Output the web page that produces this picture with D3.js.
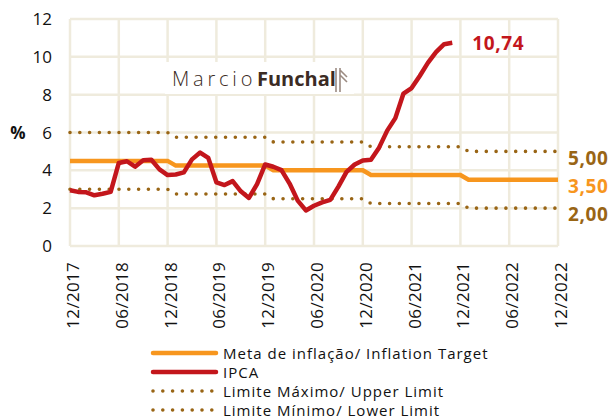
<!DOCTYPE html>
<meta charset="utf-8">
<head>
  <title>IPCA x Meta de inflação</title>
</head>
<style>
body { margin:0; background:#fff; }
text { font-family: "Open Sans", sans-serif; }
</style>
<body>
<div id="content"></div>
<script src="https://cdnjs.cloudflare.com/ajax/libs/d3/7.8.5/d3.min.js"></script>
<script>

const width = 616
const height = 418

// months from 12/2017 (index 0) to 12/2022 (index 60)
var tickLabels = ["12/2017","06/2018","12/2018","06/2019","12/2019","06/2020","12/2020","06/2021","12/2021","06/2022","12/2022"];
var yTicks = [0, 2, 4, 6, 8, 10, 12];

// IPCA 12 months, 12/2017 .. 11/2021
var ipca = [2.95,
  2.86, 2.84, 2.68, 2.76, 2.86, 4.39, 4.48, 4.19, 4.53, 4.56, 4.05, 3.75,
  3.78, 3.89, 4.58, 4.94, 4.66, 3.37, 3.22, 3.43, 2.89, 2.54, 3.27, 4.31,
  4.19, 4.01, 3.30, 2.40, 1.88, 2.13, 2.31, 2.44, 3.14, 3.92, 4.31, 4.52,
  4.56, 5.20, 6.10, 6.76, 8.06, 8.35, 8.99, 9.68, 10.25, 10.67, 10.74];

// yearly target and limits, 2017 .. 2022
var years = [2017, 2018, 2019, 2020, 2021, 2022];
var meta = [4.5, 4.5, 4.25, 4.0, 3.75, 3.5];
var limSup = [6.0, 6.0, 5.75, 5.5, 5.25, 5.0];
var limInf = [3.0, 3.0, 2.75, 2.5, 2.25, 2.0];

var red = "#c3161c", orange = "#f7961e", gold = "#996515", grid = "#efebdd";

// month index -> value of that month's year
function monthly(arr) {
  return d3.range(61).map(function(i) {
    var yr = 2017 + Math.floor((i + 11) / 12);
    return [i, arr[years.indexOf(yr)]];
  });
}

var x = d3.scaleLinear().domain([0, 60]).range([70, 558]);
var y = d3.scaleLinear().domain([0, 12]).range([246, 19]);

const svg = d3.select('#content')
  .append('svg')
    .attr('width', width)
    .attr('height', height);

// grid
var g = svg.append('g');
g.selectAll('line.h').data(yTicks).enter().append('line')
  .attr('x1', x(0)).attr('x2', x(60))
  .attr('y1', d => y(d)).attr('y2', d => y(d))
  .attr('stroke', grid).attr('stroke-width', 2.5);
g.selectAll('line.v').data(tickLabels).enter().append('line')
  .attr('x1', (d, i) => x(i * 6)).attr('x2', (d, i) => x(i * 6))
  .attr('y1', y(0)).attr('y2', y(12))
  .attr('stroke', grid).attr('stroke-width', 2.5);

// logo box
var logo = svg.append('g');
logo.append('rect').attr('x', 165).attr('y', 62).attr('width', 189).attr('height', 32).attr('fill', '#fff');
logo.append('text').attr('x', 172).attr('y', 86)
  .style('font-size', '20px').style('letter-spacing', '3.8px').style('font-weight', 300)
  .attr('fill', '#3b2b24').text('Marcio');
logo.append('text').attr('x', 257).attr('y', 86)
  .style('font-size', '20px').style('font-weight', 700)
  .attr('fill', '#3b2b24').text('Funchal');
logo.append('path')
  .attr('d', 'M336,68 L336,92 M340,68 L340,92 M340,70 L347,77 M340,75 L347,82')
  .attr('stroke', '#9b8b82').attr('stroke-width', 1.6).attr('fill', 'none');

// y axis labels
svg.selectAll('text.yl').data(yTicks).enter().append('text')
  .attr('x', 52).attr('y', d => y(d) + 6)
  .attr('text-anchor', 'end')
  .style('font-size', '17px').attr('fill', '#111')
  .text(d => d);
svg.append('text').attr('x', 18).attr('y', 139).attr('text-anchor', 'middle')
  .style('font-size', '17px').style('font-weight', 700).attr('fill', '#111').text('%');

// x axis labels
svg.selectAll('text.xl').data(tickLabels).enter().append('text')
  .attr('transform', (d, i) => 'translate(' + (x(i * 6) + 9) + ',262) rotate(-90)')
  .attr('text-anchor', 'end')
  .style('font-size', '17px').style('letter-spacing', '0.3px').attr('fill', '#111')
  .text(d => d);

var line = d3.line().x(d => x(d[0])).y(d => y(d[1]));

function dotted(sel) {
  sel.attr('fill', 'none').attr('stroke', gold).attr('stroke-width', 3.6)
    .attr('stroke-linecap', 'round').attr('stroke-dasharray', '0 9.8');
}

svg.append('path').datum(monthly(limSup)).attr('d', line).call(dotted);
svg.append('path').datum(monthly(limInf)).attr('d', line).call(dotted);
svg.append('path').datum(monthly(meta)).attr('d', line)
  .attr('fill', 'none').attr('stroke', orange).attr('stroke-width', 4.5);
svg.append('path').datum(ipca.map((v, i) => [i, v])).attr('d', line)
  .attr('fill', 'none').attr('stroke', red).attr('stroke-width', 4.5)
  .attr('stroke-linejoin', 'round');

// end labels
function fmt(v) { return v.toFixed(2).replace('.', ','); }
var endLabels = [
  { v: ipca[ipca.length - 1], x: x(ipca.length - 1) + 20, y: y(ipca[ipca.length - 1]) + 7, c: red },
  { v: limSup[5], x: x(60) + 10, y: y(limSup[5]) + 14, c: gold },
  { v: meta[5], x: x(60) + 10, y: y(meta[5]) + 13, c: orange },
  { v: limInf[5], x: x(60) + 10, y: y(limInf[5]) + 13, c: gold }
];
svg.selectAll('text.end').data(endLabels).enter().append('text')
  .attr('x', d => d.x).attr('y', d => d.y)
  .style('font-size', '19px').style('font-weight', 700).style('letter-spacing', '0.6px')
  .attr('fill', d => d.c).text(d => fmt(d.v));

// legend
var legendItems = [
  { t: 'Meta de inflação/ Inflation Target', c: orange, dot: false },
  { t: 'IPCA', c: red, dot: false },
  { t: 'Limite Máximo/ Upper Limit', c: gold, dot: true },
  { t: 'Limite Mínimo/ Lower Limit', c: gold, dot: true }
];
var lg = svg.selectAll('g.lg').data(legendItems).enter().append('g')
  .attr('transform', (d, i) => 'translate(0,' + [353, 372, 391, 410][i] + ')');
lg.append('line').attr('x1', 153).attr('x2', 216).attr('y1', 0).attr('y2', 0)
  .each(function(d) {
    var s = d3.select(this);
    if (d.dot) s.call(dotted);
    else s.attr('stroke', d.c).attr('stroke-width', 4.5).attr('stroke-linecap', 'round');
  });
lg.append('text').attr('x', 223).attr('y', 6)
  .style('font-size', '15px').style('letter-spacing', '1px').attr('fill', '#111').text(d => d.t);

</script>
</body>
</html>
